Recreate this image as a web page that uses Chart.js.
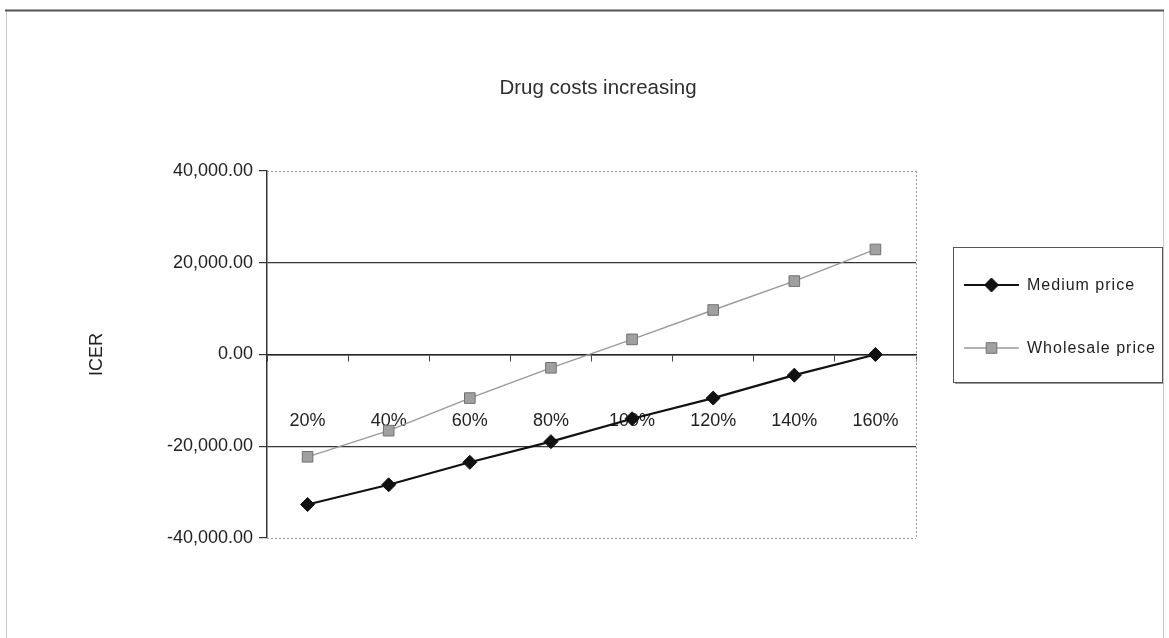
<!DOCTYPE html>
<html>
<head>
<meta charset="utf-8">
<script src="https://cdn.jsdelivr.net/npm/chart.js@4/dist/chart.umd.min.js"></script>
<style>
  html, body { margin: 0; padding: 0; background: #fff; }
  #wrap { width: 1169px; height: 638px; position: relative; }
</style>
</head>
<body>
<div id="wrap"><canvas id="c" width="1169" height="638"></canvas></div>
<script>
// Price change scenarios and resulting ICER values
const categories = ['20%', '40%', '60%', '80%', '100%', '120%', '140%', '160%'];
const mediumPrice = [-32700, -28400, -23500, -19000, -14000, -9500, -4500, 0];
const wholesalePrice = [-22300, -16600, -9500, -2900, 3300, 9700, 16000, 22900];
const seriesNames = ['Medium price', 'Wholesale price'];
const yTicks = [-40000, -20000, 0, 20000, 40000];

const FONT = '"Liberation Sans", Arial, sans-serif';

// Outer frame, plot frame and title
const framePlugin = {
  id: 'frame',
  beforeDraw(chart) {
    const ctx = chart.ctx;
    ctx.save();
    ctx.fillStyle = '#fff';
    ctx.fillRect(0, 0, chart.width, chart.height);
    ctx.strokeStyle = '#c8c8c8';
    ctx.lineWidth = 1;
    ctx.beginPath();
    ctx.moveTo(6.5, 10); ctx.lineTo(6.5, 638);
    ctx.moveTo(1163.5, 10); ctx.lineTo(1163.5, 638);
    ctx.stroke();
    ctx.strokeStyle = '#555';
    ctx.lineWidth = 2;
    ctx.beginPath();
    ctx.moveTo(5, 10.5); ctx.lineTo(1164, 10.5);
    ctx.stroke();
    // title
    ctx.fillStyle = '#2e2e2e';
    ctx.font = '20.5px ' + FONT;
    ctx.textAlign = 'center';
    ctx.textBaseline = 'middle';
    ctx.fillText('Drug costs increasing', 598, 88);
    ctx.restore();
  },
  beforeDatasetsDraw(chart) {
    const { ctx, chartArea: a } = chart;
    ctx.save();
    ctx.strokeStyle = '#9a9a9a';
    ctx.lineWidth = 1;
    ctx.setLineDash([2, 2]);
    ctx.beginPath();
    ctx.moveTo(a.left, Math.round(a.top) + 0.5); ctx.lineTo(a.right, Math.round(a.top) + 0.5);
    ctx.moveTo(Math.round(a.right) + 0.5, a.top); ctx.lineTo(Math.round(a.right) + 0.5, a.bottom);
    ctx.moveTo(a.left, Math.round(a.bottom) + 0.5); ctx.lineTo(a.right, Math.round(a.bottom) + 0.5);
    ctx.stroke();
    ctx.restore();
  }
};

// Boxed legend to the right of the plot
const boxLegend = {
  id: 'boxLegend',
  afterDraw(chart) {
    const ctx = chart.ctx;
    const box = { x: 953, y: 247, w: 209, h: 135 };
    ctx.save();
    ctx.strokeStyle = '#555';
    ctx.lineWidth = 1;
    ctx.strokeRect(box.x + 0.5, box.y + 0.5, box.w, box.h);
    ctx.strokeStyle = '#999';
    ctx.beginPath();
    ctx.moveTo(box.x + 2, box.y + box.h + 1.5); ctx.lineTo(box.x + box.w + 1.5, box.y + box.h + 1.5);
    ctx.stroke();
    const rows = [285, 348];
    chart.data.datasets.forEach((ds, i) => {
      const y = rows[i];
      ctx.strokeStyle = ds.borderColor;
      ctx.lineWidth = ds.borderWidth;
      ctx.beginPath();
      ctx.moveTo(964, y); ctx.lineTo(1019, y);
      ctx.stroke();
      ctx.fillStyle = ds.pointBackgroundColor;
      ctx.strokeStyle = ds.pointBorderColor;
      ctx.lineWidth = ds.pointBorderWidth;
      Chart.helpers.drawPoint(ctx, {
        pointStyle: ds.pointStyle, radius: ds.pointRadius, rotation: 0, borderWidth: ds.pointBorderWidth
      }, 991.5, y);
      ctx.fillStyle = '#1e1e1e';
      ctx.font = '16px ' + FONT;
      ctx.letterSpacing = '1px';
      ctx.textAlign = 'left';
      ctx.textBaseline = 'middle';
      ctx.fillText(ds.label, 1027, y + 1);
      ctx.letterSpacing = '0px';
    });
    ctx.restore();
  }
};

new Chart(document.getElementById('c'), {
  type: 'line',
  data: {
    labels: categories,
    datasets: [
      {
        label: seriesNames[0],
        data: mediumPrice,
        borderColor: '#111',
        borderWidth: 2.2,
        pointStyle: 'rectRot',
        pointRadius: 7,
        pointBackgroundColor: '#111',
        pointBorderColor: '#111',
        pointBorderWidth: 1,
        tension: 0
      },
      {
        label: seriesNames[1],
        data: wholesalePrice,
        borderColor: '#9a9a9a',
        borderWidth: 1.4,
        pointStyle: 'rect',
        pointRadius: 7.5,
        pointBackgroundColor: '#a0a0a0',
        pointBorderColor: '#707070',
        pointBorderWidth: 1,
        tension: 0
      }
    ]
  },
  options: {
    responsive: false,
    animation: false,
    layout: { padding: { left: 70, right: 253, top: 171, bottom: 100 } },
    plugins: {
      legend: { display: false },
      title: { display: false },
      tooltip: { enabled: false }
    },
    scales: {
      x: {
        type: 'category',
        position: { y: 0 },
        offset: true,
        grid: {
          offset: true,
          drawOnChartArea: false,
          drawTicks: true,
          tickLength: 6,
          tickColor: '#444'
        },
        border: { display: true, color: '#222', width: 1.5 },
        ticks: {
          color: '#222',
          font: { family: FONT, size: 18 },
          padding: 50,
          maxRotation: 0,
          autoSkip: false
        }
      },
      y: {
        min: -40000,
        max: 40000,
        afterBuildTicks(scale) { scale.ticks = yTicks.map(v => ({ value: v })); },
        afterFit(scale) { scale.width = 197; },
        grid: {
          color: ctx => (ctx.tick && Math.abs(ctx.tick.value) === 40000) ? 'rgba(0,0,0,0)' : '#333',
          lineWidth: 1.2,
          tickLength: 8,
          tickColor: '#333'
        },
        border: { display: true, color: '#333', width: 1.5 },
        ticks: {
          color: '#222',
          font: { family: FONT, size: 18 },
          padding: 6,
          callback: v => Number(v).toLocaleString('en-US', { minimumFractionDigits: 2, maximumFractionDigits: 2 })
        },
        title: {
          display: true,
          text: 'ICER',
          color: '#222',
          font: { family: FONT, size: 18 },
          padding: { top: 16, bottom: 0 }
        }
      }
    }
  },
  plugins: [framePlugin, boxLegend]
});
</script>
</body>
</html>
